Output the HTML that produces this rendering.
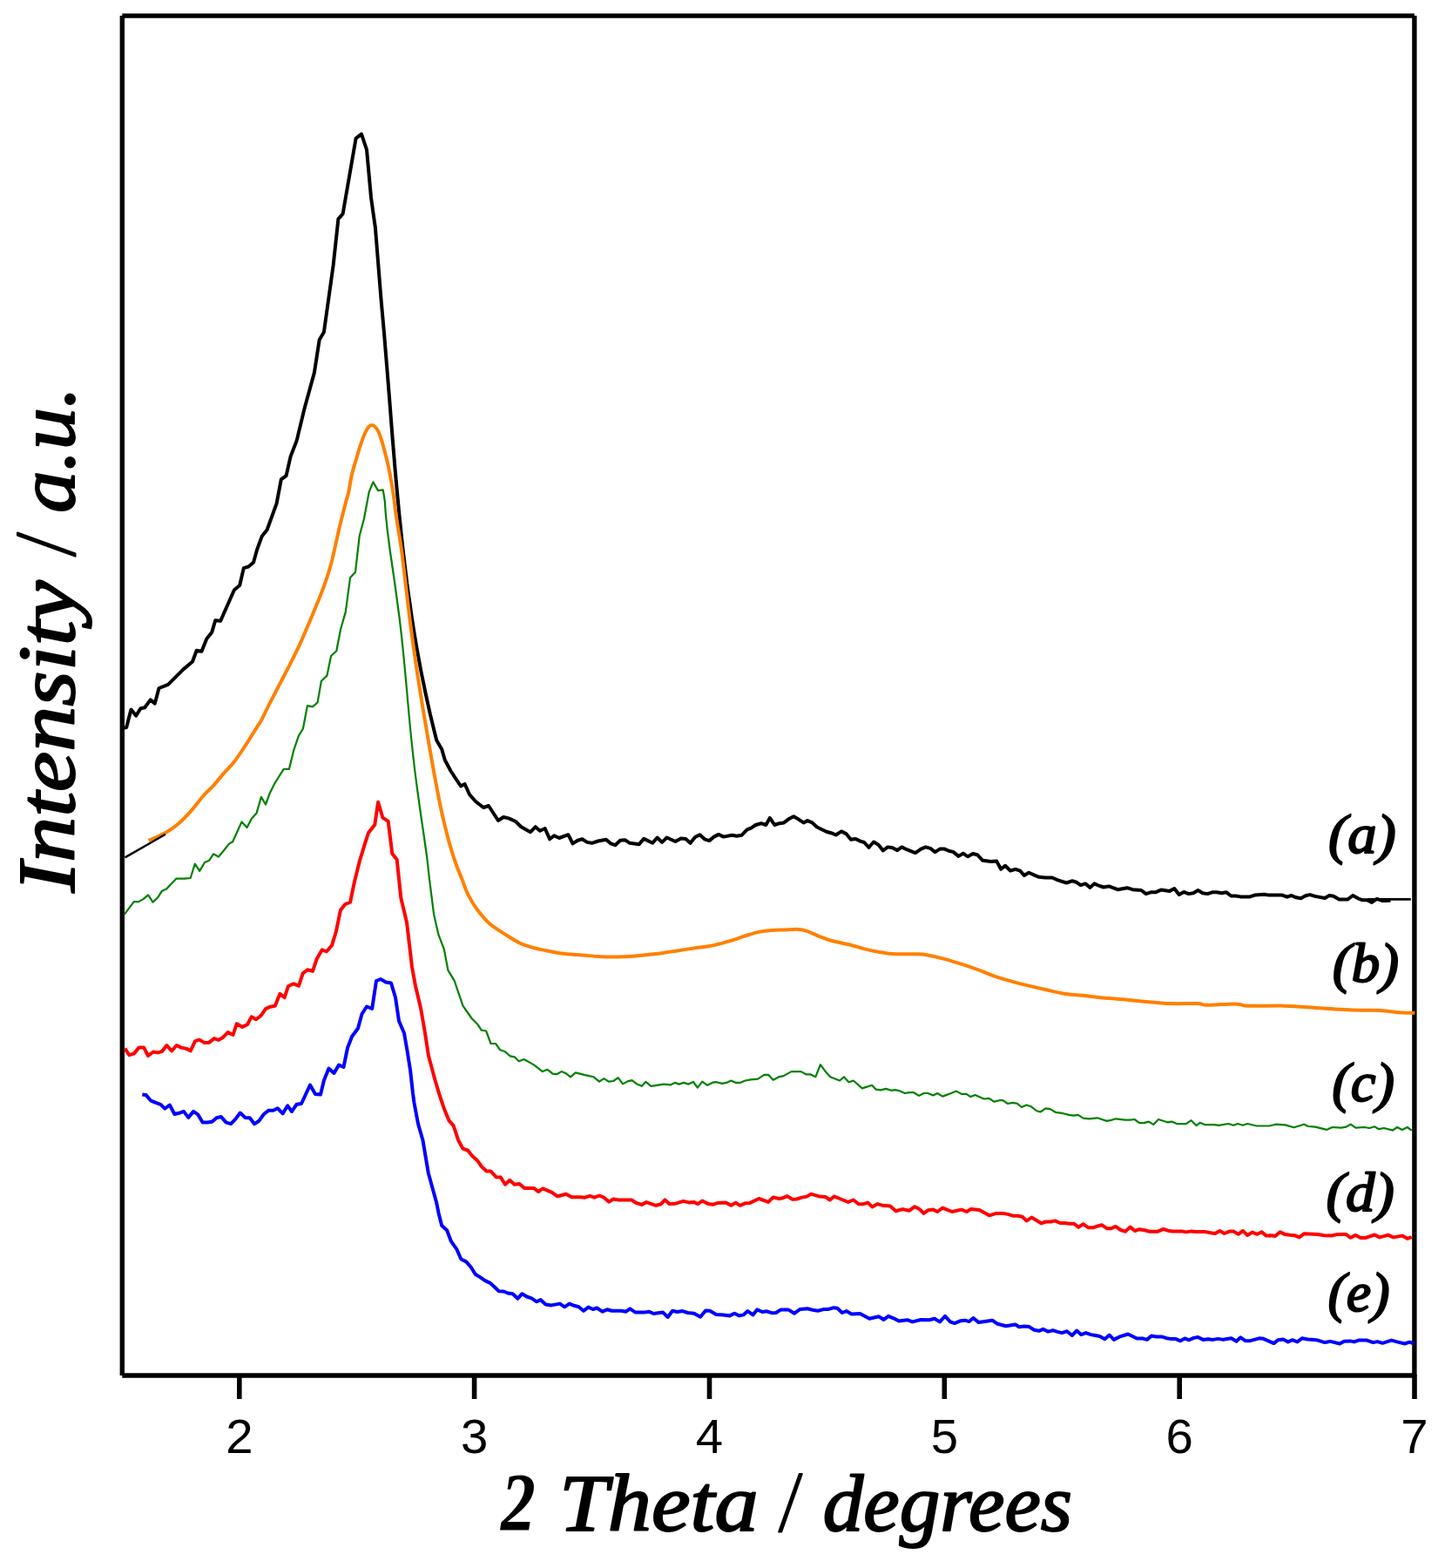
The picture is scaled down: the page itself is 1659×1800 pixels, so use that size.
<!DOCTYPE html>
<html><head><meta charset="utf-8"><style>
html,body{margin:0;padding:0;background:#fff;}
svg{display:block;}
.tl{font-family:"Liberation Sans",Arial,sans-serif;font-size:56.3px;text-anchor:middle;fill:#000;}
.ti{font-family:"Liberation Serif","DejaVu Serif",serif;font-weight:normal;font-style:italic;fill:#000;stroke:#000;stroke-width:2px;stroke-linejoin:round;}
</style></head><body>
<svg width="1659" height="1800" viewBox="0 0 1659 1800">
<rect width="1659" height="1800" fill="#fff"/>
<g stroke="#000" stroke-width="5.4" fill="none" stroke-linecap="butt">
<line x1="140.3" y1="18.1" x2="1623.9" y2="18.1"/>
<line x1="140.3" y1="18.1" x2="140.3" y2="1579"/>
<line x1="1623.9" y1="18.1" x2="1623.9" y2="1579"/>
<line x1="140.3" y1="1579" x2="1623.9" y2="1579"/>
</g>
<g fill="none" stroke-linejoin="round" stroke-linecap="butt">
<path d="M142.8,836.0 L145.2,834.9 L150.5,814.6 L156.1,821.6 L161.5,813.2 L166.2,812.2 L172.7,803.4 L177.8,807.6 L182.5,790.0 L193.0,785.9 L210.5,768.4 L221.0,759.5 L225.7,746.7 L231.5,747.8 L237.3,733.3 L243.2,725.9 L247.2,712.3 L253.2,712.8 L268.9,677.3 L275.2,672.0 L279.8,652.1 L285.2,650.5 L291.0,645.8 L295.0,631.3 L300.8,615.4 L306.6,608.2 L317.6,577.9 L322.8,550.4 L328.6,546.1 L333.5,524.4 L340.7,505.6 L349.4,469.5 L360.9,427.6 L366.7,390.0 L371.9,381.3 L382.6,304.7 L388.4,251.3 L393.6,245.5 L408.6,158.8 L415.0,153.9 L421.0,171.8 L426.0,226.7 L430.9,261.4 L437.4,342.3 L440.8,380.0 L444.1,420.0 L447.3,460.0 L450.4,500.0 L453.7,540.0 L455.5,560.0 L458.3,590.0 L462.5,630.0 L467.3,670.0 L473.0,710.0 L475.3,725.0 L478.7,745.0 L483.3,770.0 L488.4,795.0 L493.9,820.0 L500.0,845.0 L501.3,850.0 L507.2,860.0 L510.8,872.5 L517.5,885.0 L522.0,892.0 L529.0,902.4 L533.6,900.0 L539.0,912.0 L546.0,920.0 L555.0,927.0 L561.0,925.0 L572.0,942.0 L578.0,938.0 L584.0,939.4 L592.0,943.0 L598.0,949.0 L609.0,955.2 L614.8,949.2 L619.9,953.7 L625.7,951.0 L631.1,963.3 L636.2,959.3 L642.0,962.0 L652.4,958.2 L657.5,968.4 L663.3,964.7 L668.4,963.3 L674.1,966.9 L679.6,967.8 L686.8,965.5 L695.8,963.8 L701.3,968.4 L706.3,970.2 L712.1,964.7 L717.5,964.2 L723.0,967.8 L733.5,969.3 L739.2,962.9 L749.2,967.8 L754.6,961.5 L760.0,966.9 L765.5,961.5 L775.4,966.0 L781.7,962.4 L787.2,962.9 L792.6,967.8 L798.0,961.1 L803.4,958.2 L808.9,963.3 L814.3,965.1 L819.7,960.6 L825.1,957.9 L830.6,960.6 L840.5,958.8 L845.9,959.7 L851.4,958.8 L857.7,952.4 L862.2,950.6 L867.6,947.0 L874.0,945.2 L879.4,947.0 L883.9,938.9 L889.3,947.0 L894.8,945.2 L900.0,944.4 L905.4,940.3 L911.2,937.2 L917.2,940.8 L922.6,944.4 L927.1,942.1 L932.5,944.4 L938.0,949.5 L948.8,954.7 L954.2,956.2 L959.7,958.5 L966.0,954.4 L971.4,957.1 L976.9,963.8 L982.3,963.0 L987.7,965.6 L992.2,967.0 L997.6,972.8 L1003.1,966.5 L1008.5,969.7 L1013.9,976.4 L1019.3,972.4 L1024.8,973.3 L1030.2,976.1 L1035.3,972.4 L1041.0,975.2 L1051.0,979.1 L1057.3,974.6 L1062.7,972.4 L1068.2,973.9 L1073.6,978.2 L1079.0,974.6 L1084.4,974.6 L1089.9,977.0 L1094.4,977.9 L1100.4,982.9 L1105.8,979.7 L1111.2,983.3 L1117.0,980.0 L1122.4,981.5 L1128.2,987.8 L1137.8,989.1 L1144.1,988.4 L1149.2,997.8 L1154.1,993.8 L1160.0,999.6 L1165.8,997.8 L1171.2,999.6 L1175.8,1005.0 L1181.2,1001.7 L1187.5,1004.6 L1192.9,1006.8 L1200.0,1007.4 L1208.1,1007.5 L1214.5,1010.4 L1224.4,1013.5 L1230.7,1011.3 L1235.3,1012.5 L1240.7,1016.2 L1246.1,1014.4 L1251.5,1018.9 L1256.4,1014.4 L1261.5,1016.7 L1266.9,1018.5 L1273.2,1017.4 L1283.2,1021.2 L1294.0,1019.2 L1300.4,1021.2 L1310.3,1022.0 L1315.7,1026.1 L1321.2,1024.3 L1326.6,1024.3 L1332.9,1021.6 L1342.9,1022.9 L1348.3,1020.1 L1353.7,1027.0 L1359.1,1023.9 L1364.6,1026.1 L1370.0,1025.2 L1375.4,1022.0 L1380.8,1025.2 L1386.3,1026.1 L1391.7,1024.3 L1397.1,1024.3 L1402.5,1025.2 L1408.0,1024.3 L1413.4,1028.5 L1418.8,1028.5 L1424.2,1029.4 L1435.1,1029.4 L1440.5,1027.6 L1451.4,1026.7 L1456.8,1027.6 L1472.2,1027.6 L1477.6,1029.7 L1482.7,1028.0 L1488.1,1030.3 L1493.6,1031.2 L1499.4,1028.0 L1504.0,1027.1 L1509.8,1028.9 L1521.1,1031.0 L1526.1,1028.0 L1531.1,1028.8 L1537.4,1032.4 L1547.4,1032.4 L1553.2,1028.0 L1559.6,1031.6 L1564.5,1033.3 L1569.5,1033.3 L1574.9,1035.9 L1580.8,1031.9 L1586.7,1033.9 L1591.2,1034.1 L1596.5,1033.8" stroke="#000" stroke-width="4"/>
<path d="M170.6,964.8 C173.8,963.4 183.8,959.5 189.5,956.3 C195.2,953.1 199.8,949.8 204.7,945.7 C209.6,941.6 213.8,937.2 218.7,931.7 C223.6,926.2 229.6,917.9 233.9,913.0 C238.2,908.1 240.5,906.8 244.4,902.5 C248.3,898.2 253.1,892.1 257.2,887.4 C261.3,882.7 264.8,879.8 268.9,874.5 C273.0,869.2 277.2,862.7 281.7,855.9 C286.2,849.1 292.6,838.5 295.7,833.7 C298.8,828.9 297.7,831.1 300.0,826.9 C302.3,822.6 305.9,814.8 309.3,808.2 C312.7,801.6 316.6,794.2 320.2,787.2 C323.8,780.2 327.5,773.3 331.1,766.2 C334.7,759.1 338.6,751.5 342.0,744.4 C345.4,737.3 348.2,730.6 351.3,723.4 C354.4,716.1 357.9,707.8 360.7,700.9 C363.5,694.0 366.1,688.2 368.4,682.2 C370.7,676.2 372.9,670.4 374.7,665.1 C376.5,659.8 378.0,655.0 379.3,650.3 C380.6,645.6 380.9,644.6 382.6,637.1 C384.4,629.6 387.4,615.4 389.8,605.3 C392.2,595.2 395.3,582.9 397.0,576.4 C398.7,569.9 398.8,571.3 400.0,566.0 C401.2,560.7 402.4,551.4 404.0,544.7 C405.6,538.0 407.8,531.3 409.3,526.0 C410.9,520.7 411.7,517.4 413.3,512.7 C414.9,508.0 417.0,501.8 418.7,498.0 C420.4,494.2 421.9,491.7 423.3,490.0 C424.7,488.3 426.1,488.0 427.3,488.0 C428.5,488.0 429.5,488.7 430.7,490.0 C431.9,491.3 433.4,493.1 434.7,496.0 C436.0,498.9 437.1,502.1 438.7,507.3 C440.2,512.5 442.4,520.8 444.0,527.3 C445.6,533.8 446.7,538.9 448.0,546.0 C449.3,553.1 450.8,561.5 452.0,570.0 C453.2,578.5 454.0,586.7 455.5,596.7 C457.0,606.7 459.4,620.0 460.8,630.0 C462.2,640.0 462.9,646.7 464.1,656.7 C465.3,666.7 466.9,681.1 468.0,690.0 C469.1,698.9 469.6,703.3 470.4,710.0 C471.2,716.7 472.2,724.2 473.0,730.0 C473.8,735.8 474.2,738.3 475.1,745.0 C476.1,751.7 477.4,761.7 478.7,770.0 C479.9,778.3 481.3,786.7 482.6,795.0 C483.9,803.3 485.3,811.7 486.7,820.0 C488.1,828.3 489.8,838.3 490.9,845.0 C492.0,851.7 492.3,853.3 493.5,860.0 C494.7,866.7 496.4,876.7 497.9,885.0 C499.4,893.3 501.0,901.7 502.6,910.0 C504.2,918.3 505.8,926.7 507.7,935.0 C509.6,943.3 512.0,953.0 513.8,960.0 C515.6,967.0 516.8,971.2 518.5,976.7 C520.2,982.2 522.0,987.8 524.0,993.3 C526.0,998.8 528.5,1004.4 530.7,1010.0 C532.9,1015.6 534.5,1021.2 537.2,1026.7 C540.0,1032.2 543.1,1037.8 547.2,1043.3 C551.3,1048.8 556.3,1055.2 561.7,1060.0 C567.1,1064.8 573.8,1068.5 579.6,1072.3 C585.4,1076.0 591.6,1080.1 596.4,1082.5 C601.2,1084.9 603.7,1085.4 608.5,1086.8 C613.3,1088.2 619.4,1089.6 625.4,1090.9 C631.4,1092.2 637.5,1093.6 644.7,1094.5 C651.9,1095.4 661.6,1095.9 668.8,1096.5 C676.0,1097.1 682.1,1097.8 688.1,1098.1 C694.1,1098.4 698.1,1098.7 704.9,1098.6 C711.7,1098.5 721.0,1098.0 729.1,1097.4 C737.2,1096.8 745.2,1096.0 753.2,1095.0 C761.2,1094.0 769.3,1092.6 777.3,1091.4 C785.3,1090.2 794.6,1088.8 801.4,1087.8 C808.2,1086.8 811.5,1086.9 818.3,1085.4 C825.1,1083.9 836.0,1080.8 842.4,1078.9 C848.8,1077.0 852.0,1075.5 856.8,1074.0 C861.6,1072.5 866.5,1070.9 871.3,1069.9 C876.1,1068.9 881.0,1068.4 885.8,1068.0 C890.6,1067.6 894.8,1067.6 900.0,1067.4 C905.2,1067.2 912.5,1066.7 916.9,1066.9 C921.3,1067.1 922.9,1067.6 926.5,1068.8 C930.1,1070.0 934.0,1072.3 938.6,1074.1 C943.2,1075.9 947.8,1077.9 954.2,1079.7 C960.6,1081.5 971.0,1083.4 977.2,1085.0 C983.4,1086.6 986.4,1087.8 991.6,1089.1 C996.8,1090.4 1002.9,1091.7 1008.5,1092.7 C1014.1,1093.7 1018.2,1094.7 1025.4,1095.1 C1032.6,1095.5 1045.5,1095.1 1051.9,1095.3 C1058.3,1095.5 1058.8,1095.4 1064.0,1096.3 C1069.2,1097.2 1075.6,1098.5 1083.2,1100.6 C1090.8,1102.6 1102.6,1106.3 1109.8,1108.6 C1117.0,1110.9 1121.4,1112.6 1126.6,1114.6 C1131.8,1116.6 1134.7,1118.2 1141.1,1120.4 C1147.5,1122.6 1155.2,1124.9 1165.2,1127.6 C1175.2,1130.2 1192.2,1134.2 1201.4,1136.3 C1210.7,1138.4 1212.7,1139.2 1220.7,1140.4 C1228.7,1141.6 1241.6,1142.6 1249.6,1143.5 C1257.6,1144.4 1262.2,1145.1 1268.9,1145.7 C1275.6,1146.3 1283.0,1146.6 1290.0,1147.2 C1297.0,1147.8 1301.9,1148.7 1311.1,1149.5 C1320.2,1150.3 1334.4,1151.7 1344.9,1152.1 C1355.5,1152.5 1367.7,1151.8 1374.4,1152.1 C1381.1,1152.4 1380.3,1153.6 1384.9,1153.8 C1389.5,1154.0 1395.8,1153.3 1401.8,1153.1 C1407.8,1152.9 1415.5,1152.4 1420.8,1152.7 C1426.1,1153.0 1425.4,1154.5 1433.5,1154.8 C1441.6,1155.1 1458.0,1154.2 1469.3,1154.4 C1480.5,1154.7 1490.5,1155.6 1501.0,1156.3 C1511.5,1157.0 1522.0,1157.8 1532.6,1158.4 C1543.1,1159.0 1555.5,1159.4 1564.3,1159.7 C1573.1,1160.0 1578.4,1159.7 1585.4,1160.1 C1592.4,1160.5 1600.0,1161.8 1606.5,1162.2 C1613.0,1162.7 1621.4,1162.7 1624.4,1162.8" stroke="#ff8000" stroke-width="4"/>
<path d="M142.8,1049.6 L153.8,1035.1 L159.2,1035.1 L164.5,1032.1 L170.1,1027.4 L175.5,1035.6 L181.3,1030.2 L186.0,1022.7 L191.1,1020.4 L202.3,1008.7 L211.7,1008.7 L218.7,1008.0 L223.8,991.7 L229.2,999.9 L235.0,990.0 L240.2,987.7 L245.0,980.3 L250.9,983.5 L257.2,976.0 L263.0,968.6 L267.2,966.3 L277.5,943.4 L283.6,949.9 L288.7,939.9 L294.5,933.6 L299.9,914.9 L305.0,923.5 L309.7,910.7 L315.5,899.0 L325.7,882.9 L331.9,882.9 L337.3,861.1 L342.8,844.8 L347.9,836.5 L352.9,810.1 L359.1,811.3 L364.6,806.4 L368.9,781.8 L375.4,775.6 L380.1,753.0 L386.3,747.2 L391.0,722.7 L396.8,702.4 L402.0,663.3 L408.0,656.7 L412.7,615.3 L418.0,595.3 L423.7,564.7 L428.4,553.3 L434.0,563.1 L439.7,562.3 L441.8,575.0 L442.8,590.0 L444.9,610.0 L447.5,630.0 L453.3,670.0 L458.7,710.0 L461.0,730.0 L463.1,750.0 L464.7,766.7 L467.3,795.0 L469.5,820.0 L471.9,845.0 L474.6,870.0 L476.3,885.0 L479.6,910.0 L483.1,935.0 L486.8,960.0 L490.3,985.0 L493.1,1010.0 L498.1,1049.7 L503.5,1073.2 L509.8,1089.5 L514.4,1113.9 L521.6,1125.6 L531.5,1154.6 L541.5,1169.0 L548.7,1176.3 L552.7,1182.6 L558.1,1183.5 L563.5,1198.0 L569.0,1198.0 L574.0,1205.2 L579.5,1207.0 L585.8,1212.4 L590.7,1213.3 L595.7,1218.2 L601.5,1216.0 L612.9,1222.4 L622.9,1230.1 L628.6,1227.8 L634.6,1232.7 L639.1,1233.2 L644.6,1230.1 L650.0,1232.3 L655.0,1236.3 L660.8,1231.4 L671.7,1234.1 L681.6,1236.3 L688.0,1241.7 L693.4,1238.1 L698.8,1241.7 L704.2,1241.0 L709.7,1237.2 L715.1,1244.4 L720.5,1241.4 L725.6,1240.1 L731.4,1244.6 L736.8,1246.8 L741.3,1241.9 L747.6,1246.8 L762.1,1244.6 L770.0,1245.3 L774.8,1242.9 L779.6,1244.6 L785.0,1242.9 L790.5,1244.6 L796.0,1242.0 L800.9,1248.7 L806.2,1241.7 L812.2,1245.8 L818.2,1242.7 L822.6,1242.2 L829.1,1243.9 L833.9,1242.9 L839.4,1240.5 L844.7,1242.9 L849.6,1242.9 L855.6,1240.5 L861.6,1239.3 L870.1,1238.6 L877.3,1233.8 L882.1,1233.8 L887.7,1239.8 L894.2,1236.2 L899.0,1235.4 L908.6,1230.1 L919.5,1230.1 L925.5,1233.3 L930.3,1233.3 L936.4,1236.2 L941.9,1222.2 L947.2,1229.4 L953.2,1236.2 L964.1,1240.5 L968.9,1236.2 L974.5,1242.2 L979.8,1240.5 L989.9,1249.4 L1001.0,1245.8 L1005.8,1250.6 L1011.1,1251.4 L1017.1,1249.9 L1023.2,1251.8 L1028.0,1251.1 L1032.8,1252.3 L1038.8,1255.0 L1043.7,1254.2 L1049.2,1254.2 L1055.0,1257.9 L1060.5,1255.0 L1065.4,1255.0 L1071.4,1257.4 L1076.2,1255.0 L1082.2,1258.6 L1091.9,1255.0 L1097.9,1252.6 L1103.9,1255.9 L1109.5,1255.9 L1114.3,1259.1 L1119.6,1256.9 L1129.7,1261.5 L1135.3,1260.8 L1141.3,1264.6 L1147.3,1263.2 L1151.4,1263.2 L1157.0,1267.0 L1162.9,1265.9 L1168.0,1266.9 L1173.0,1271.0 L1178.5,1268.5 L1183.9,1270.3 L1189.7,1275.0 L1194.4,1276.5 L1200.5,1272.4 L1205.6,1273.1 L1211.8,1276.8 L1220.8,1278.2 L1227.3,1279.9 L1232.3,1280.7 L1237.8,1279.9 L1243.6,1283.7 L1250.4,1284.4 L1259.8,1283.3 L1270.7,1286.9 L1275.7,1285.9 L1281.2,1284.3 L1291.6,1285.7 L1297.4,1285.7 L1302.5,1285.0 L1308.3,1289.1 L1313.3,1289.1 L1318.8,1287.6 L1324.2,1290.9 L1330.0,1285.0 L1340.1,1288.3 L1345.2,1287.6 L1351.7,1290.2 L1361.8,1290.2 L1367.6,1286.2 L1373.4,1292.0 L1377.7,1288.8 L1383.5,1291.2 L1394.4,1291.2 L1399.4,1291.8 L1410.3,1290.0 L1416.0,1291.8 L1421.1,1290.0 L1426.9,1291.8 L1432.2,1290.0 L1442.8,1292.5 L1457.3,1292.5 L1464.5,1290.7 L1475.4,1291.4 L1485.5,1294.3 L1497.1,1290.7 L1502.1,1293.0 L1510.1,1293.6 L1523.1,1296.9 L1529.6,1294.0 L1539.7,1294.7 L1545.5,1293.6 L1550.6,1290.7 L1556.4,1294.7 L1566.5,1294.0 L1572.3,1295.0 L1578.1,1293.3 L1583.1,1296.2 L1588.9,1295.0 L1599.0,1297.6 L1604.1,1294.0 L1609.9,1296.9 L1615.7,1294.0 L1620.7,1297.6" stroke="#008000" stroke-width="2.2"/>
<path d="M143.4,1203.6 L148.3,1211.2 L153.7,1209.6 L159.7,1202.4 L165.1,1202.4 L170.0,1212.0 L176.0,1207.5 L181.4,1208.4 L186.2,1206.8 L191.4,1200.0 L197.1,1206.3 L202.8,1200.0 L207.9,1202.6 L213.4,1203.6 L218.8,1206.3 L224.0,1195.1 L229.0,1193.6 L234.5,1196.9 L239.9,1196.9 L245.9,1192.1 L251.0,1193.9 L256.2,1190.7 L261.6,1185.1 L267.6,1187.9 L271.8,1175.2 L278.2,1178.9 L283.9,1176.2 L288.7,1167.4 L294.1,1170.2 L299.6,1165.8 L305.0,1158.1 L310.4,1155.7 L315.8,1154.7 L321.3,1140.9 L326.7,1145.1 L331.0,1132.0 L337.0,1129.3 L343.0,1131.7 L347.7,1117.3 L353.0,1113.3 L359.0,1114.9 L363.7,1100.7 L369.7,1090.4 L375.0,1092.3 L381.0,1085.3 L385.7,1070.0 L391.0,1044.7 L396.3,1038.0 L402.1,1035.7 L407.0,1012.0 L413.0,988.0 L418.3,970.7 L423.0,956.0 L430.3,946.7 L434.1,920.7 L439.4,938.7 L445.7,942.9 L450.3,980.0 L455.7,986.7 L460.3,1030.7 L467.0,1058.7 L473.0,1110.0 L477.0,1132.0 L483.0,1157.0 L488.0,1186.0 L492.0,1212.0 L499.5,1240.0 L504.4,1256.3 L509.8,1272.5 L515.3,1286.1 L520.7,1292.4 L526.1,1308.7 L531.5,1318.7 L537.0,1320.5 L542.4,1327.2 L547.8,1331.9 L553.2,1339.5 L558.7,1344.5 L563.5,1344.5 L569.5,1351.2 L574.9,1351.6 L580.0,1359.7 L585.2,1354.8 L590.7,1359.7 L596.3,1359.0 L602.1,1363.9 L612.9,1363.9 L618.0,1368.0 L623.2,1364.4 L633.7,1368.8 L640.0,1373.3 L650.0,1370.7 L656.3,1374.2 L666.3,1374.2 L671.7,1374.7 L677.1,1372.9 L682.5,1374.7 L688.0,1372.5 L693.4,1374.7 L699.2,1379.6 L704.2,1376.5 L709.7,1377.4 L725.0,1377.4 L730.5,1381.0 L736.8,1382.9 L742.2,1380.1 L753.1,1383.8 L758.5,1382.5 L763.5,1377.4 L768.4,1382.0 L774.8,1381.8 L784.5,1378.9 L791.7,1380.6 L796.5,1379.9 L801.3,1382.1 L806.2,1378.5 L813.4,1382.1 L818.2,1382.8 L824.2,1380.9 L833.2,1380.4 L839.4,1383.8 L844.7,1380.6 L849.6,1383.8 L855.6,1381.3 L861.1,1380.9 L871.3,1376.0 L882.1,1379.9 L887.7,1374.4 L894.2,1376.0 L897.8,1375.6 L903.8,1373.1 L909.8,1376.8 L914.7,1376.5 L920.7,1374.6 L926.2,1373.6 L931.1,1370.7 L941.2,1373.6 L947.9,1374.1 L952.8,1377.5 L957.6,1373.4 L965.3,1376.5 L973.7,1379.9 L979.8,1377.5 L985.8,1382.3 L990.6,1382.3 L996.2,1380.6 L1001.5,1385.4 L1007.5,1382.1 L1013.5,1383.8 L1022.0,1384.5 L1028.5,1390.3 L1036.4,1388.1 L1043.7,1389.8 L1050.2,1385.2 L1055.7,1388.1 L1060.5,1392.9 L1065.4,1389.3 L1071.4,1388.6 L1076.2,1391.0 L1082.2,1386.6 L1093.1,1391.0 L1103.9,1388.6 L1110.0,1391.0 L1114.8,1387.9 L1124.4,1389.1 L1135.8,1395.3 L1143.7,1392.9 L1151.4,1392.9 L1157.0,1393.9 L1163.6,1395.8 L1168.7,1395.8 L1173.7,1396.8 L1178.8,1401.5 L1184.3,1397.5 L1189.7,1400.7 L1195.4,1404.3 L1200.5,1402.5 L1206.3,1402.5 L1211.4,1401.4 L1217.1,1404.0 L1222.2,1404.0 L1228.0,1404.7 L1233.1,1404.7 L1238.1,1408.8 L1243.6,1405.2 L1249.7,1409.3 L1254.8,1409.3 L1259.8,1407.6 L1264.9,1406.2 L1270.7,1410.2 L1275.7,1410.2 L1280.8,1407.9 L1286.6,1412.0 L1291.9,1413.7 L1297.7,1408.6 L1302.9,1413.0 L1308.3,1411.2 L1314.1,1412.2 L1319.9,1413.7 L1329.3,1413.7 L1335.8,1410.9 L1340.8,1412.7 L1345.9,1413.4 L1356.7,1413.4 L1361.8,1414.4 L1367.6,1413.4 L1372.7,1414.1 L1384.2,1414.1 L1390.0,1415.3 L1395.1,1416.0 L1400.4,1412.9 L1405.6,1416.0 L1411.7,1413.6 L1416.0,1413.6 L1421.8,1416.8 L1426.9,1412.9 L1432.2,1418.2 L1437.7,1414.6 L1443.5,1416.8 L1448.6,1414.3 L1453.7,1418.6 L1459.4,1418.2 L1464.1,1418.9 L1469.6,1414.2 L1475.4,1417.1 L1481.1,1417.8 L1486.2,1418.2 L1491.7,1420.4 L1497.1,1416.3 L1513.0,1417.1 L1520.2,1418.2 L1528.9,1418.5 L1534.7,1417.1 L1545.5,1417.1 L1550.6,1420.8 L1556.4,1417.9 L1562.2,1421.1 L1567.2,1421.1 L1578.1,1417.5 L1583.9,1420.4 L1594.0,1417.8 L1599.8,1420.4 L1609.9,1418.6 L1615.7,1421.8 L1620.7,1420.1" stroke="#ff0000" stroke-width="4"/>
<path d="M163.3,1256.4 L167.5,1256.9 L172.9,1263.3 L178.3,1265.7 L184.4,1267.8 L189.2,1272.6 L194.8,1268.5 L200.4,1279.0 L205.5,1277.8 L210.9,1275.9 L216.3,1282.9 L222.1,1275.9 L227.2,1279.3 L232.6,1288.6 L238.0,1288.6 L243.4,1287.8 L248.6,1283.2 L253.9,1282.0 L259.7,1288.6 L265.1,1290.2 L270.6,1284.4 L275.7,1277.5 L281.4,1282.9 L286.8,1283.2 L292.0,1290.2 L297.3,1286.8 L302.9,1279.0 L308.5,1274.7 L313.7,1274.7 L318.8,1272.3 L324.6,1278.4 L330.2,1269.3 L335.0,1276.0 L340.5,1267.8 L346.0,1267.0 L356.0,1245.5 L362.0,1256.0 L368.0,1256.5 L372.0,1240.0 L377.5,1226.5 L383.5,1232.0 L389.0,1222.5 L394.5,1225.0 L399.0,1203.0 L404.0,1190.0 L411.0,1180.5 L415.5,1164.0 L421.0,1155.5 L427.2,1158.0 L432.0,1126.0 L437.0,1124.0 L443.0,1127.5 L449.0,1128.5 L454.0,1145.0 L458.0,1172.0 L464.0,1186.0 L467.5,1206.0 L471.0,1228.0 L474.0,1255.0 L475.5,1266.0 L480.0,1290.0 L485.4,1308.7 L491.8,1346.7 L501.0,1380.0 L503.6,1392.7 L507.2,1407.1 L513.1,1412.2 L518.0,1425.2 L524.4,1434.2 L529.4,1445.5 L535.2,1448.4 L540.6,1454.5 L545.7,1462.8 L551.5,1466.4 L556.9,1470.1 L562.3,1472.6 L567.8,1477.6 L572.8,1482.2 L578.2,1482.5 L583.1,1484.5 L588.6,1485.2 L594.5,1490.7 L599.4,1485.2 L604.8,1488.5 L610.3,1490.3 L616.2,1494.3 L620.6,1492.1 L626.5,1497.5 L632.9,1498.4 L642.8,1496.6 L648.2,1500.3 L653.7,1496.6 L659.1,1498.8 L664.5,1500.3 L669.9,1504.8 L675.4,1500.6 L680.8,1503.0 L685.3,1501.5 L691.6,1505.7 L697.1,1503.3 L702.5,1504.8 L713.3,1504.8 L718.7,1505.7 L723.3,1502.4 L729.6,1506.6 L739.5,1506.6 L745.0,1505.7 L750.4,1508.0 L761.2,1506.6 L766.7,1512.0 L772.1,1504.8 L777.5,1506.0 L783.6,1505.1 L789.6,1507.0 L796.9,1507.7 L804.1,1511.8 L810.1,1504.4 L815.0,1504.8 L822.2,1508.9 L830.6,1509.4 L837.9,1510.4 L843.2,1507.7 L848.7,1510.4 L853.5,1509.4 L858.4,1505.1 L864.4,1509.4 L869.2,1503.4 L875.2,1506.0 L880.1,1505.3 L886.1,1507.2 L890.9,1507.0 L896.2,1503.6 L905.4,1503.6 L912.1,1507.7 L918.6,1502.9 L927.1,1502.2 L934.3,1504.1 L939.1,1504.8 L945.2,1503.1 L951.2,1502.9 L957.2,1501.2 L961.3,1501.7 L966.9,1507.0 L971.7,1505.1 L977.7,1508.5 L987.4,1508.0 L998.2,1513.8 L1009.1,1511.3 L1014.6,1515.0 L1019.9,1510.9 L1025.9,1513.3 L1032.0,1516.6 L1041.6,1515.2 L1047.6,1517.4 L1057.3,1515.0 L1066.9,1515.2 L1072.9,1513.8 L1079.0,1517.4 L1085.0,1510.9 L1091.0,1517.4 L1095.9,1519.1 L1103.1,1516.2 L1107.9,1515.7 L1112.7,1517.1 L1117.5,1513.0 L1123.6,1518.1 L1139.3,1515.7 L1145.3,1519.8 L1154.9,1522.2 L1165.8,1520.5 L1170.0,1523.2 L1175.8,1522.4 L1181.6,1523.1 L1187.4,1526.8 L1192.9,1527.8 L1197.5,1525.8 L1203.3,1528.6 L1208.8,1527.2 L1214.1,1528.9 L1219.2,1530.1 L1225.0,1528.2 L1230.8,1533.0 L1236.3,1527.5 L1241.2,1532.1 L1246.7,1530.1 L1252.5,1532.1 L1257.5,1533.0 L1262.6,1534.0 L1268.4,1537.2 L1273.7,1532.5 L1278.8,1537.9 L1285.0,1534.7 L1295.1,1531.5 L1305.3,1536.5 L1311.8,1536.5 L1316.8,1537.9 L1321.9,1533.6 L1327.7,1534.4 L1333.5,1534.4 L1339.3,1536.2 L1343.6,1536.9 L1349.4,1536.9 L1355.2,1539.3 L1360.2,1536.5 L1365.3,1538.3 L1370.4,1535.9 L1375.4,1535.0 L1381.2,1537.9 L1387.0,1537.2 L1392.8,1537.9 L1398.6,1536.9 L1404.4,1537.9 L1407.2,1537.2 L1413.7,1536.3 L1419.5,1539.7 L1424.3,1535.3 L1429.7,1539.2 L1435.4,1539.2 L1445.6,1536.3 L1450.6,1536.8 L1462.5,1542.1 L1467.3,1538.2 L1473.1,1537.5 L1478.8,1540.4 L1483.6,1538.2 L1489.4,1540.4 L1494.8,1536.3 L1501.3,1537.5 L1511.4,1538.2 L1520.8,1541.1 L1527.3,1539.9 L1538.2,1542.5 L1543.2,1539.7 L1550.4,1539.4 L1554.8,1540.4 L1559.9,1538.6 L1569.3,1538.6 L1576.5,1541.1 L1581.6,1540.1 L1587.3,1541.8 L1597.5,1538.6 L1604.0,1540.4 L1612.7,1542.5 L1618.4,1540.7 L1623.5,1542.5" stroke="#0000ff" stroke-width="4"/>
<path d="M143.5,984.4 L189.9,957.8" stroke="#000" stroke-width="2.4"/>
<path d="M1570.0,1032.4 L1619.8,1032.4" stroke="#000" stroke-width="2.6"/>
</g>
<g stroke="#000" stroke-width="5.6"><line x1="274.8" y1="1578" x2="274.8" y2="1606" /><line x1="544.6" y1="1578" x2="544.6" y2="1606" /><line x1="814.5" y1="1578" x2="814.5" y2="1606" /><line x1="1084.3" y1="1578" x2="1084.3" y2="1606" /><line x1="1354.2" y1="1578" x2="1354.2" y2="1606" /><line x1="1624.0" y1="1578" x2="1624.0" y2="1606" /></g>
<g class="tl"><text x="274.8" y="1668">2</text><text x="544.6" y="1668">3</text><text x="814.5" y="1668">4</text><text x="1084.3" y="1668">5</text><text x="1354.2" y="1668">6</text><text x="1624.0" y="1668">7</text></g>
<text class="ti" x="575.1" y="1757.3" font-size="96" style="font-weight:bold;stroke:none" textLength="39.8" lengthAdjust="spacingAndGlyphs">2</text>
<text class="ti" x="641.9" y="1756.8" font-size="93" textLength="228.8" lengthAdjust="spacingAndGlyphs">Theta</text>
<text class="ti" x="897.1" y="1756.8" font-size="100" textLength="18.9" lengthAdjust="spacingAndGlyphs">/</text>
<text class="ti" x="944.7" y="1756.8" font-size="93" textLength="286.4" lengthAdjust="spacingAndGlyphs">degrees</text>
<text class="ti" transform="translate(85.4,1026.7) rotate(-90)" x="2.2" y="0" font-size="93" textLength="358.3" lengthAdjust="spacingAndGlyphs">Intensity</text>
<text class="ti" transform="translate(85.4,640) rotate(-90)" x="4.2" y="0" font-size="100" textLength="19.3" lengthAdjust="spacingAndGlyphs">/</text>
<text class="ti" transform="translate(85.4,586.7) rotate(-90)" x="-2.1" y="0" font-size="93" textLength="144.9" lengthAdjust="spacingAndGlyphs">a.u.</text>
<text class="ti" x="1525.0" y="978.8" font-size="64.1" textLength="77.8" lengthAdjust="spacingAndGlyphs">(a)</text>
<text class="ti" x="1529.7" y="1126.5" font-size="64.1" textLength="76.4" lengthAdjust="spacingAndGlyphs">(b)</text>
<text class="ti" x="1529.2" y="1263.5" font-size="64.1" textLength="71.8" lengthAdjust="spacingAndGlyphs">(c)</text>
<text class="ti" x="1522.6" y="1390.0" font-size="64.1" textLength="78.3" lengthAdjust="spacingAndGlyphs">(d)</text>
<text class="ti" x="1524.5" y="1504.7" font-size="64.1" textLength="71.1" lengthAdjust="spacingAndGlyphs">(e)</text>
</svg>
</body></html>
